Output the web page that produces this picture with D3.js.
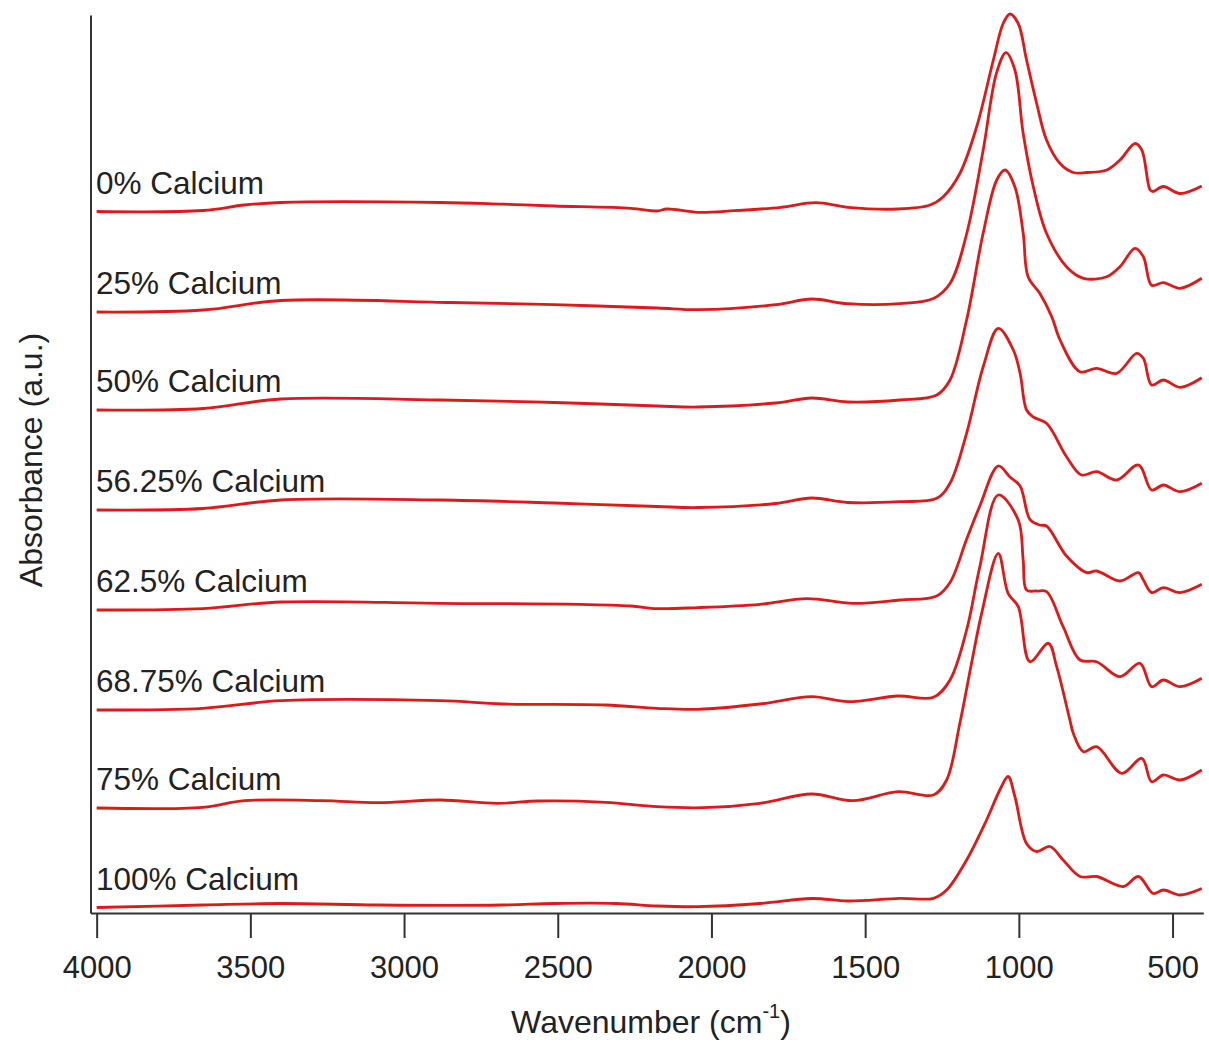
<!DOCTYPE html>
<html>
<head>
<meta charset="utf-8">
<script src="https://cdn.jsdelivr.net/npm/d3@7"></script>
<style>
  body { margin: 0; background: #fff; }
  text { font-family: Arial, "Liberation Sans", sans-serif; fill: #222; }
</style>
</head>
<body>
<div id="chart"></div>
<script>
// Spectra: [wavenumber (cm-1), absorbance (a.u.)]
var ca0 = [[4000,0],[3654,0.01],[3519,0.065],[3401,0.09],[2882,0.09],[2681,0.073],[2512,0.055],[2262,0.032],[2177,0.005],[2145,0.025],[2044,-0.008],[1926,0.008],[1774,0.042],[1660,0.088],[1557,0.042],[1393,0.025],[1289,0.065],[1246,0.148],[1192,0.38],[1137,0.85],[1083,1.515],[1051,1.88],[1029,1.975],[1002,1.88],[975,1.515],[942,1.08],[910,0.715],[866,0.48],[823,0.39],[779,0.39],[714,0.415],[671,0.515],[622,0.68],[600,0.615],[573,0.215],[563,0.2],[530,0.25],[476,0.18],[405,0.255]];
var ca25 = [[4000,0],[3654,0.02],[3401,0.115],[2848,0.095],[2512,0.073],[2177,0.04],[2044,0.023],[1791,0.073],[1674,0.13],[1557,0.083],[1387,0.084],[1278,0.134],[1224,0.284],[1170,0.78],[1116,1.62],[1073,2.387],[1042,2.593],[1013,2.42],[986,1.787],[953,1.253],[910,0.787],[845,0.453],[790,0.337],[714,0.353],[671,0.453],[622,0.637],[595,0.553],[568,0.267],[530,0.293],[476,0.237],[405,0.337]];
var ca50 = [[4000,0],[3654,0.015],[3401,0.11],[2882,0.1],[2512,0.075],[2177,0.04],[2044,0.03],[1791,0.07],[1674,0.12],[1557,0.08],[1387,0.1],[1267,0.15],[1224,0.3],[1170,0.9],[1116,1.77],[1072,2.3],[1045,2.4],[1013,2.233],[986,1.77],[970,1.333],[932,1.167],[893,0.933],[866,0.7],[801,0.383],[747,0.417],[682,0.367],[617,0.567],[595,0.517],[568,0.25],[530,0.3],[476,0.227],[405,0.323]];
var ca56 = [[4000,0],[3654,0.015],[3401,0.1],[2882,0.1],[2512,0.07],[2177,0.035],[2044,0.025],[1791,0.065],[1674,0.12],[1557,0.075],[1387,0.083],[1267,0.117],[1224,0.267],[1170,0.767],[1116,1.433],[1067,1.817],[1018,1.6],[996,1.367],[975,1.0],[953,0.93],[910,0.867],[845,0.533],[796,0.35],[747,0.383],[682,0.3],[611,0.45],[568,0.2],[530,0.25],[476,0.183],[405,0.267]];
var ca62 = [[4000,0],[3654,0.014],[3401,0.08],[2882,0.067],[2429,0.057],[2262,0.04],[2177,0.014],[2044,0.024],[1842,0.057],[1691,0.114],[1540,0.067],[1387,0.1],[1267,0.14],[1224,0.274],[1170,0.707],[1127,1.04],[1067,1.44],[1029,1.33],[996,1.24],[964,0.907],[932,0.85],[910,0.84],[845,0.54],[779,0.374],[747,0.39],[671,0.29],[611,0.374],[595,0.3],[568,0.174],[530,0.224],[476,0.174],[405,0.257]];
var ca68 = [[4000,0],[3654,0.017],[3401,0.093],[2882,0.093],[2681,0.06],[2345,0.05],[2177,0.017],[2044,0.007],[1842,0.06],[1674,0.133],[1556,0.083],[1393,0.14],[1278,0.127],[1224,0.3],[1170,0.8],[1127,1.433],[1067,2.15],[1002,1.9],[986,1.5],[975,1.2],[942,1.19],[910,1.183],[856,0.833],[801,0.5],[747,0.483],[671,0.333],[606,0.467],[568,0.233],[530,0.3],[476,0.233],[405,0.317]];
var ca75 = [[4000,0],[3654,0.007],[3519,0.073],[3267,0.073],[3083,0.053],[2882,0.08],[2698,0.047],[2563,0.07],[2345,0.057],[2177,0.013],[2026,0.003],[1842,0.047],[1674,0.14],[1540,0.073],[1393,0.163],[1278,0.13],[1235,0.28],[1192,0.847],[1154,1.447],[1121,1.947],[1067,2.547],[1035,2.147],[1002,2.013],[964,1.463],[904,1.647],[877,1.413],[834,0.88],[823,0.747],[790,0.563],[747,0.613],[665,0.347],[600,0.497],[568,0.263],[530,0.33],[476,0.28],[405,0.38]];
var ca100 = [[4000,0],[3654,0.025],[3401,0.04],[3083,0.025],[2681,0.025],[2512,0.04],[2311,0.04],[2177,0.015],[2044,0.008],[1842,0.04],[1674,0.09],[1556,0.065],[1387,0.092],[1278,0.092],[1235,0.175],[1170,0.475],[1105,0.875],[1062,1.175],[1035,1.31],[1013,1.11],[975,0.64],[942,0.56],[899,0.61],[856,0.475],[801,0.31],[747,0.31],[660,0.21],[611,0.31],[563,0.14],[530,0.175],[476,0.125],[405,0.19]];

// Series labels and vertical stacking offsets (a.u.)
var seriesLabels = ["0% Calcium", "25% Calcium", "50% Calcium", "56.25% Calcium",
  "62.5% Calcium", "68.75% Calcium", "75% Calcium", "100% Calcium"];
var seriesOffsets = [6.96, 5.955, 4.975, 3.975, 2.975, 1.975, 0.995, 0];
var seriesData = [ca0, ca25, ca50, ca56, ca62, ca68, ca75, ca100];

// Axis ticks
var xTicks = [4000, 3500, 3000, 2500, 2000, 1500, 1000, 500];

var width = 1209;
var height = 1044;

var svg = d3
  .select("#chart")
  .append("svg")
  .attr("width", width)
  .attr("height", height)
  .style("background", "#fff");

// Reversed wavenumber scale
var xScale = d3.scaleLinear().domain([4020, 400]).range([90.5, 1203.3]);
var yScale = d3.scaleLinear().domain([-0.055, 8.925]).range([913, 15]);

// Bottom axis
var xAxis = d3
  .axisBottom(xScale)
  .tickValues(xTicks)
  .tickFormat(d3.format("d"))
  .tickSize(25)
  .tickSizeOuter(0)
  .tickPadding(18);

var gx = svg
  .append("g")
  .attr("class", "xAxis")
  .attr("transform", "translate(0," + yScale.range()[0] + ")")
  .call(xAxis);
gx.selectAll("path, line").attr("stroke", "#333").attr("stroke-width", 2);
gx.selectAll("text")
  .style("font-size", "31px")
  .style("font-family", "Arial, 'Liberation Sans', sans-serif")
  .attr("fill", "#222");

// Left axis: plain line, no ticks
var yAxis = d3.axisLeft(yScale).tickValues([]).tickSizeOuter(0);
var gy = svg
  .append("g")
  .attr("class", "yAxis")
  .attr("transform", "translate(" + xScale.range()[0] + ",0)")
  .call(yAxis);
gy.selectAll("path").attr("stroke", "#333").attr("stroke-width", 2);

// Spectrum lines
var line = d3
  .line()
  .x(function(d) { return xScale(d[0]); })
  .y(function(d) { return yScale(d[1]); })
  .curve(d3.curveCatmullRom.alpha(0.5));

seriesData.forEach(function(spec, i) {
  var shifted = spec.map(function(p) { return [p[0], p[1] + seriesOffsets[i]]; });
  svg
    .append("path")
    .datum(shifted)
    .attr("d", line)
    .attr("fill", "none")
    .attr("stroke", "#e01818")
    .attr("stroke-width", 2.8)
    .attr("stroke-linejoin", "round");

  svg
    .append("text")
    .attr("x", 96)
    .attr("y", yScale(seriesOffsets[i]) - 18)
    .style("font-size", "31.5px")
    .text(seriesLabels[i]);
});

// Axis titles
var xTitle = svg
  .append("text")
  .attr("x", 651)
  .attr("y", 1033)
  .attr("text-anchor", "middle")
  .style("font-size", "32px");
xTitle.append("tspan").text("Wavenumber (cm");
xTitle.append("tspan").attr("dy", -15).style("font-size", "20px").text("-1");
xTitle.append("tspan").attr("dy", 15).text(")");

svg
  .append("text")
  .attr("transform", "translate(42,460) rotate(-90)")
  .attr("text-anchor", "middle")
  .style("font-size", "32px")
  .text("Absorbance (a.u.)");
</script>
</body>
</html>
